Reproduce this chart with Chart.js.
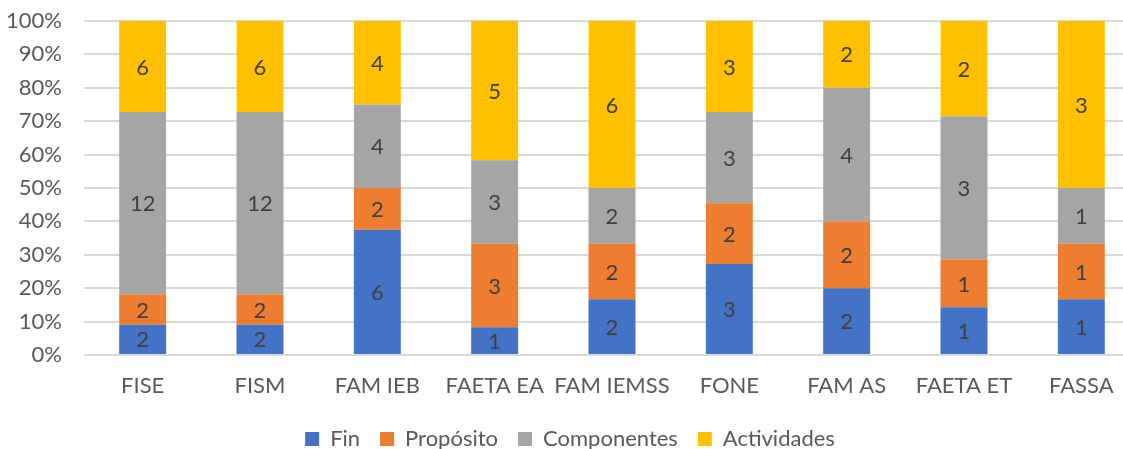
<!DOCTYPE html>
<html>
<head>
<meta charset="utf-8">
<script src="https://cdn.jsdelivr.net/npm/chart.js@4"></script>
<style>
  html, body { margin: 0; padding: 0; background: #fff; overflow: hidden; }
  #wrap { width: 1140px; height: 449px; }
</style>
</head>
<body>
<div id="wrap"><canvas id="chart"></canvas></div>
<script>
const categories = ['FISE', 'FISM', 'FAM IEB', 'FAETA EA', 'FAM IEMSS', 'FONE', 'FAM AS', 'FAETA ET', 'FASSA'];
const finCounts = [2, 2, 6, 1, 2, 3, 2, 1, 1];
const propositoCounts = [2, 2, 2, 3, 2, 2, 2, 1, 1];
const componentesCounts = [12, 12, 4, 3, 2, 3, 4, 3, 1];
const actividadesCounts = [6, 6, 4, 5, 6, 3, 2, 2, 3];
const yTicks = [0, 10, 20, 30, 40, 50, 60, 70, 80, 90, 100];

const seriesCounts = [finCounts, propositoCounts, componentesCounts, actividadesCounts];
const totals = categories.map((_, i) => seriesCounts.reduce((sum, s) => sum + s[i], 0));
const toPercent = (counts) => counts.map((v, i) => v / totals[i] * 100);

const FONT = 'Lato, "Open Sans", sans-serif';
const TEXT = '#595959';
const SIZE = 22;

// draws the raw count in the middle of each segment
const segmentLabels = {
    id: 'segmentLabels',
    afterDatasetsDraw(chart) {
        const ctx = chart.ctx;
        ctx.save();
        ctx.font = SIZE + 'px ' + FONT;
        ctx.fillStyle = '#404040';
        ctx.textAlign = 'center';
        ctx.textBaseline = 'middle';
        chart.data.datasets.forEach((ds, di) => {
            const meta = chart.getDatasetMeta(di);
            meta.data.forEach((bar, i) => {
                const count = ds.counts[i];
                if (!count) return;
                const mid = (bar.y + bar.base) / 2;
                ctx.fillText(String(count), bar.x, mid + 1);
            });
        });
        ctx.restore();
    }
};

function makeDataset(label, counts, color) {
    return {
        label,
        data: toPercent(counts),
        counts,
        backgroundColor: color,
        borderWidth: 0,
        barPercentage: 0.4,
        categoryPercentage: 1.0
    };
}

new Chart(document.getElementById('chart'), {
    type: 'bar',
    data: {
        labels: categories,
        datasets: [
            makeDataset('Fin', finCounts, '#4472c4'),
            makeDataset('Propósito', propositoCounts, '#ed7d31'),
            makeDataset('Componentes', componentesCounts, '#a5a5a5'),
            makeDataset('Actividades', actividadesCounts, '#ffc000')
        ]
    },
    options: {
        responsive: true,
        maintainAspectRatio: false,
        animation: false,
        layout: {
            padding: { top: 0, right: 0, left: 0, bottom: -11 }
        },
        plugins: {
            legend: {
                position: 'bottom',
                labels: {
                    boxWidth: 14,
                    boxHeight: 14,
                    padding: 20,
                    color: TEXT,
                    font: { family: FONT, size: SIZE }
                }
            },
            tooltip: { enabled: false }
        },
        scales: {
            x: {
                stacked: true,
                grid: { display: false },
                border: { display: false },
                afterFit: (axis) => {
                    axis.height = 53;
                    axis.paddingLeft = 0;
                    axis.paddingRight = 0;
                },
                ticks: {
                    color: TEXT,
                    padding: 10,
                    autoSkip: false,
                    maxRotation: 0,
                    minRotation: 0,
                    font: { family: FONT, size: SIZE }
                }
            },
            y: {
                stacked: true,
                min: 0,
                max: 100,
                afterBuildTicks: (axis) => {
                    axis.ticks = yTicks.map((v) => ({ value: v }));
                },
                afterFit: (axis) => {
                    axis.width = 84;
                    axis.paddingTop = 21;
                    axis.paddingBottom = 0;
                },
                grid: { color: '#d9d9d9', lineWidth: 2, drawTicks: false },
                border: { display: false },
                ticks: {
                    color: TEXT,
                    padding: 22,
                    autoSkip: false,
                    font: { family: FONT, size: SIZE },
                    callback: (value) => `${value}%`
                }
            }
        }
    },
    plugins: [segmentLabels]
});
</script>
</body>
</html>
